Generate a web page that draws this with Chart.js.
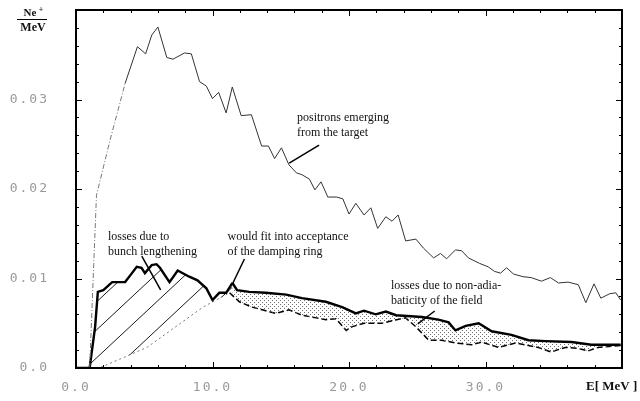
<!DOCTYPE html>
<html>
<head>
<meta charset="utf-8">
<script src="https://cdn.jsdelivr.net/npm/chart.js@4.4.1/dist/chart.umd.min.js"></script>
<style>
  html, body { margin: 0; padding: 0; background: #fff; }
  #wrap { width: 640px; height: 401px; }
</style>
</head>
<body>
<div id="wrap"><canvas id="spectrum" width="640" height="401"></canvas></div>
<script>
// positron spectrum (E in MeV, Ne+/MeV)
const emergingE = [1.0, 1.5, 2.5, 3.6, 4.5, 5.1, 5.55, 6.0, 6.65, 7.1, 7.95, 8.45, 9.05, 9.55, 10.0, 10.45, 11.0, 11.45, 12.1, 12.85, 13.6, 14.1, 14.55, 15.05, 15.6, 16.15, 16.55, 17.1, 17.5, 17.95, 18.45, 19.1, 19.55, 20.0, 20.5, 21.1, 21.6, 22.1, 22.7, 23.15, 23.6, 24.15, 24.9, 25.45, 26.2, 26.7, 27.15, 27.8, 28.25, 28.75, 29.55, 30.2, 30.65, 31.1, 31.55, 32.05, 32.75, 33.35, 34.1, 34.75, 35.35, 36.05, 36.8, 37.35, 37.95, 38.45, 39.1, 39.55, 39.9];
const emergingN = [0, 0.0193, 0.0255, 0.0318, 0.0359, 0.0351, 0.0372, 0.0381, 0.0347, 0.0345, 0.0352, 0.0351, 0.0320, 0.0315, 0.0301, 0.0308, 0.0285, 0.0314, 0.0282, 0.0283, 0.0248, 0.0248, 0.0234, 0.0246, 0.0227, 0.0218, 0.0216, 0.0211, 0.0199, 0.0208, 0.0191, 0.0191, 0.0189, 0.0172, 0.0184, 0.0171, 0.0179, 0.0156, 0.0169, 0.0164, 0.0171, 0.0142, 0.0144, 0.0134, 0.0123, 0.0128, 0.0122, 0.0132, 0.0131, 0.0123, 0.0117, 0.0113, 0.0108, 0.0106, 0.0112, 0.0105, 0.0102, 0.0101, 0.0097, 0.0101, 0.0095, 0.0096, 0.0093, 0.0073, 0.0094, 0.0078, 0.0083, 0.0084, 0.0076];

const capturedE = [0, 1.0, 1.4, 1.6, 2.0, 2.65, 3.6, 4.1, 4.45, 4.8, 5.05, 5.55, 5.9, 6.15, 6.85, 7.45, 8.3, 8.9, 9.55, 10.0, 10.5, 11.0, 11.46, 11.8, 12.7, 13.9, 15.4, 16.55, 18.3, 19.5, 20.5, 21.1, 21.95, 22.7, 23.45, 25.35, 26.55, 27.3, 27.8, 28.55, 29.5, 30.45, 31.9, 33.15, 34.4, 36.3, 37.75, 38.45, 39.9];
const capturedN = [0, 0, 0.0046, 0.0085, 0.0087, 0.0096, 0.0096, 0.0106, 0.0113, 0.0112, 0.0106, 0.0115, 0.0116, 0.0112, 0.0096, 0.0109, 0.0102, 0.0098, 0.0089, 0.0076, 0.0084, 0.0084, 0.0095, 0.0087, 0.0085, 0.0084, 0.0082, 0.0078, 0.0074, 0.0068, 0.0061, 0.0064, 0.0060, 0.0063, 0.0059, 0.0057, 0.0054, 0.0051, 0.0042, 0.0047, 0.0050, 0.0041, 0.0037, 0.0031, 0.0030, 0.0029, 0.0026, 0.0026, 0.0026];

const acceptedE = [0, 1.7, 5.2, 9.3, 11.25, 11.97, 12.9, 13.65, 14.65, 15.6, 16.55, 17.6, 18.3, 19.05, 19.8, 20.2, 21.1, 22.4, 23.5, 24.15, 24.9, 25.85, 26.8, 27.8, 29.0, 29.7, 30.95, 32.2, 33.85, 34.8, 35.85, 36.8, 37.5, 38.25, 39.9];
const acceptedN = [0, 0, 0.0023, 0.0068, 0.0084, 0.0074, 0.0068, 0.0065, 0.0061, 0.0065, 0.0059, 0.0056, 0.0054, 0.0055, 0.0042, 0.0046, 0.0050, 0.0050, 0.0054, 0.0056, 0.0046, 0.0031, 0.0031, 0.0028, 0.0026, 0.0029, 0.0023, 0.0028, 0.0023, 0.0018, 0.0023, 0.0022, 0.0019, 0.0023, 0.0025];

const xTickLabels = ["0.0", "10.0", "20.0", "30.0"];
const yTickLabels = ["0.0", "0.01", "0.02", "0.03"];

// where the hatched part (bunch lengthening) stops and the dotted part starts
const hatchEnd = 11.4;

const notes = [
	{ lines: ["positrons emerging", "from the target"], at: [16.19, 0.0280], leader: [[15.62, 0.0229], [17.81, 0.0249]] },
	{ lines: ["losses due to", "bunch lengthening"], at: [2.34, 0.01464], leader: [[4.82, 0.01251], [6.2, 0.00872]] },
	{ lines: ["would fit into acceptance", "of the damping ring"], at: [11.1, 0.01464], leader: [[12.34, 0.01218], [11.46, 0.00939]] },
	{ lines: ["losses due to non-adia-", "baticity of the field"], at: [23.07, 0.00916], leader: [[26.28, 0.00637], [25.04, 0.00492]] },
];

const toPoints = (xs, ys) => xs.map((x, i) => ({ x: x, y: ys[i] }));

function hatchPattern() {
	const c = document.createElement("canvas");
	c.width = 30;
	c.height = 28;
	const g = c.getContext("2d");
	g.strokeStyle = "#1a1a1a";
	g.lineWidth = 1;
	for (const k of [-1, 0, 1]) {
		g.beginPath();
		g.moveTo(k * 30, 28);
		g.lineTo(k * 30 + 30, 0);
		g.stroke();
	}
	return g.createPattern(c, "repeat");
}

function stipplePattern() {
	const c = document.createElement("canvas");
	c.width = 4;
	c.height = 4;
	const g = c.getContext("2d");
	g.fillStyle = "#6e6e6e";
	g.fillRect(0, 0, 1, 1);
	g.fillRect(2, 2, 1, 1);
	return g.createPattern(c, "repeat");
}

const HATCH = hatchPattern();
const STIPPLE = stipplePattern();

const frameAndTicks = {
	id: "frameAndTicks",
	beforeDraw(chart) {
		chart.ctx.letterSpacing = "2px";
	},
	afterDraw(chart) {
		const { ctx, chartArea: a, scales } = chart;
		ctx.save();
		ctx.letterSpacing = "0px";
		ctx.strokeStyle = "#000";
		ctx.lineWidth = 2;
		ctx.strokeRect(a.left, a.top, a.right - a.left, a.bottom - a.top);

		ctx.lineWidth = 1;
		ctx.beginPath();
		for (let e = 2; e < 40; e += 2) {
			const px = Math.round(scales.x.getPixelForValue(e)) + 0.5;
			const len = e % 10 === 0 ? 6 : 3;
			ctx.moveTo(px, a.bottom);
			ctx.lineTo(px, a.bottom - len);
			ctx.moveTo(px, a.top);
			ctx.lineTo(px, a.top + len);
		}
		for (let i = 1; i < 20; i++) {
			const py = Math.round(scales.y.getPixelForValue(i * 0.002)) + 0.5;
			const len = i % 5 === 0 ? 6 : 3;
			ctx.moveTo(a.left, py);
			ctx.lineTo(a.left + len, py);
			ctx.moveTo(a.right, py);
			ctx.lineTo(a.right - len, py);
		}
		ctx.stroke();

		// annotations with their leader lines
		ctx.fillStyle = "#111";
		ctx.font = "12px 'Liberation Serif'";
		ctx.textBaseline = "middle";
		ctx.textAlign = "left";
		for (const n of notes) {
			const x = scales.x.getPixelForValue(n.at[0]);
			const y = scales.y.getPixelForValue(n.at[1]);
			n.lines.forEach((t, i) => ctx.fillText(t, x, y + i * 15));
			ctx.lineWidth = 1.5;
			ctx.beginPath();
			ctx.moveTo(scales.x.getPixelForValue(n.leader[0][0]), scales.y.getPixelForValue(n.leader[0][1]));
			ctx.lineTo(scales.x.getPixelForValue(n.leader[1][0]), scales.y.getPixelForValue(n.leader[1][1]));
			ctx.stroke();
		}

		// axis titles
		ctx.font = "bold 11px 'Liberation Serif'";
		ctx.textAlign = "center";
		ctx.fillText("Ne", 30, 13);
		ctx.font = "bold 8px 'Liberation Serif'";
		ctx.fillText("+", 41, 10);
		ctx.font = "bold 12px 'Liberation Serif'";
		ctx.fillText("MeV", 33, 28);
		ctx.lineWidth = 1;
		ctx.beginPath();
		ctx.moveTo(17, 19.5);
		ctx.lineTo(47, 19.5);
		ctx.stroke();

		ctx.font = "bold 13px 'Liberation Serif'";
		ctx.textAlign = "left";
		ctx.fillText("E[ MeV ]", 586, 387);
		ctx.restore();
	},
};

new Chart(document.getElementById("spectrum"), {
	type: "line",
	data: {
		datasets: [
			{
				label: "positrons emerging from the target",
				data: toPoints(emergingE, emergingN),
				borderColor: "#333",
				borderWidth: 1,
				fill: false,
				segment: {
					borderDash: (c) => (c.p1.parsed.x <= 3.6 ? [5, 2, 1, 2] : undefined),
					borderColor: (c) => (c.p1.parsed.x <= 3.6 ? "#777" : undefined),
				},
			},
			{
				label: "captured",
				data: toPoints(capturedE, capturedN),
				borderColor: "#000",
				borderWidth: 2.4,
				fill: "+1",
				backgroundColor: STIPPLE,
				segment: {
					backgroundColor: (c) => (c.p0.parsed.x < hatchEnd ? HATCH : STIPPLE),
				},
			},
			{
				label: "accepted",
				data: toPoints(acceptedE, acceptedN),
				borderColor: "#000",
				borderWidth: 1.5,
				borderDash: [6, 3],
				fill: false,
				segment: {
					borderDash: (c) => (c.p0.parsed.x < 11.2 ? [2, 3] : [6, 3]),
					borderColor: (c) => (c.p0.parsed.x < 11.2 ? "#777" : "#000"),
					borderWidth: (c) => (c.p0.parsed.x < 11.2 ? 1 : 1.5),
				},
			},
		],
	},
	options: {
		responsive: false,
		animation: false,
		devicePixelRatio: 1,
		layout: { padding: { top: 10, right: 18, left: 0, bottom: 0 } },
		elements: { point: { radius: 0 }, line: { tension: 0 } },
		plugins: {
			legend: { display: false },
			tooltip: { enabled: false },
		},
		scales: {
			x: {
				type: "linear",
				min: 0,
				max: 40,
				afterFit: (s) => {
					s.height = 33;
					s.paddingLeft = 0;
					s.paddingRight = 0;
				},
				grid: { display: false, drawTicks: false },
				border: { display: false },
				ticks: {
					stepSize: 10,
					autoSkip: false,
					maxRotation: 0,
					padding: 12,
					color: "#999",
					font: { family: "DejaVu Sans Mono", size: 13 },
					callback: (v) => xTickLabels[Math.round(v / 10)] ?? "",
				},
			},
			y: {
				min: 0,
				max: 0.04,
				afterFit: (s) => {
					s.width = 76;
					s.paddingTop = 0;
					s.paddingBottom = 0;
				},
				grid: { display: false, drawTicks: false },
				border: { display: false },
				ticks: {
					stepSize: 0.01,
					autoSkip: false,
					padding: 27,
					color: "#999",
					font: { family: "DejaVu Sans Mono", size: 13 },
					callback: (v) => yTickLabels[Math.round(v / 0.01)] ?? "",
				},
			},
		},
	},
	plugins: [frameAndTicks],
});
</script>
</body>
</html>
